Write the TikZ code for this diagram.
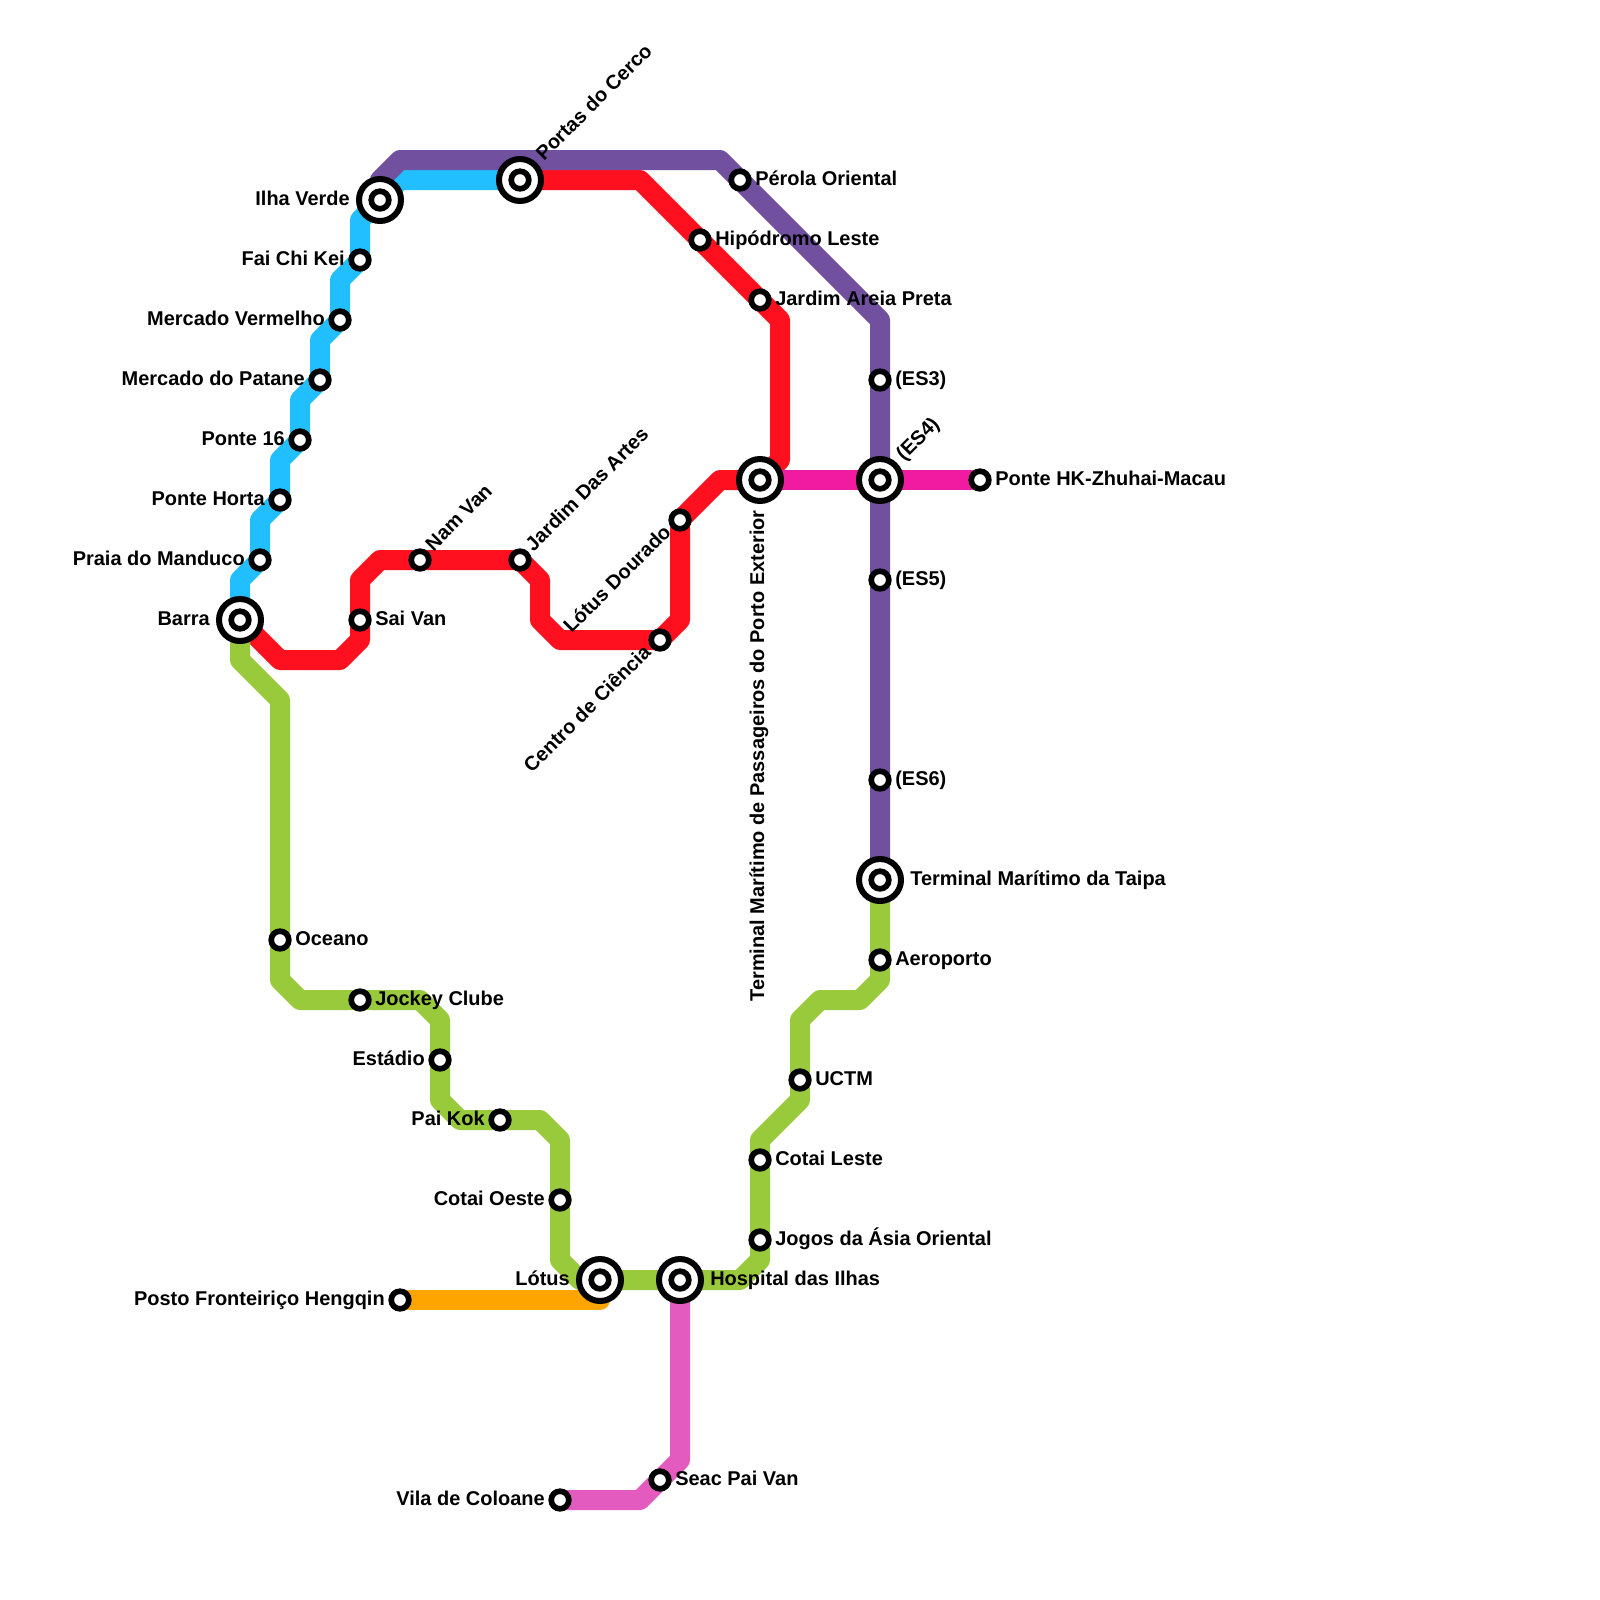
\documentclass[tikz,border=0pt]{standalone}
\usepackage{fontspec}
\setmainfont{Liberation Sans}
\usetikzlibrary{backgrounds}
\definecolor{lineblue}{HTML}{21BFFF}
\definecolor{linered}{HTML}{FF101F}
\definecolor{linepurple}{HTML}{70509F}
\definecolor{linegreen}{HTML}{98CA3C}
\definecolor{lineorange}{HTML}{FFA500}
\definecolor{linepink}{HTML}{E45BBF}
\definecolor{linemagenta}{HTML}{F01BA0}
\tikzset{
  route/.style={line width=0.5cm,line join=round},
  stopnode/.style={circle,draw=black,fill=white,line width=4.05pt,minimum size=0.44cm,inner sep=0pt,outer sep=0pt},
  hubnode/.style={circle,draw=black,fill=white,line width=4.27pt,minimum size=1.05cm,inner sep=0pt,outer sep=0pt},
  stoplabel/.style={font=\fontsize{14.2}{16}\selectfont\bfseries,inner sep=0pt,text=black}
}
\begin{document}
\begin{tikzpicture}[x=0.5cm,y=-0.5cm]
\useasboundingbox (0,0) rectangle (80,80);
\foreach \n/\x/\y/\lab in {ilhaverde/19/10/Ilha Verde,barra/12/31/Barra,lotus/30/64/Lótus}{
  \node[hubnode] (\n) at (\x,\y) {};
  \node[stopnode] (\n in) at (\x,\y) {};
  \node[stoplabel,anchor=base east] (\n lab) at (\x-1.5,\y+0.25) {\lab};}
\foreach \n/\x/\y/\lab in {taipa/44/44/Terminal Marítimo da Taipa,hospital/34/64/Hospital das Ilhas}{
  \node[hubnode] (\n) at (\x,\y) {};
  \node[stopnode] (\n in) at (\x,\y) {};
  \node[stoplabel,anchor=base west] (\n lab) at (\x+1.5,\y+0.25) {\lab};}
\foreach \n/\x/\y/\lab in {portas/26/9/Portas do Cerco,estes/44/24/(ES4)}{
  \node[hubnode] (\n) at (\x,\y) {};
  \node[stopnode] (\n in) at (\x,\y) {};
  \node[stoplabel,anchor=base west,rotate=45] (\n lab) at (\x+1.2,\y-0.92) {\lab};}
\node[hubnode] (exterior) at (38,24) {};
\node[stopnode] (exterior in) at (38,24) {};
\node[stoplabel,anchor=base east,rotate=90] (exterior lab) at (38.2,25.5) {Terminal Marítimo de Passageiros do Porto Exterior};
\foreach \n/\x/\y/\lab in {
 faichikei/18/13/Fai Chi Kei,
 vermelho/17/16/Mercado Vermelho,
 patane/16/19/Mercado do Patane,
 pontedez/15/22/Ponte 16,
 horta/14/25/Ponte Horta,
 manduco/13/28/Praia do Manduco,
 estadio/22/53/Estádio,
 paikok/25/56/Pai Kok,
 cotaioeste/28/60/Cotai Oeste,
 hengqin/20/65/Posto Fronteiriço Hengqin,
 coloane/28/75/Vila de Coloane}{
  \node[stopnode] (\n) at (\x,\y) {};
  \node[stoplabel,anchor=base east] (\n lab) at (\x-0.75,\y+0.25) {\lab};}
\foreach \n/\x/\y/\lab in {
 saivan/18/31/Sai Van,
 perola/37/9/Pérola Oriental,
 hipodromo/35/12/Hipódromo Leste,
 areiapreta/38/15/Jardim Areia Preta,
 estres/44/19/(ES3),
 escinco/44/29/(ES5),
 esseis/44/39/(ES6),
 pontehk/49/24/Ponte HK-Zhuhai-Macau,
 oceano/14/47/Oceano,
 jockey/18/50/Jockey Clube,
 aeroporto/44/48/Aeroporto,
 uctm/40/54/UCTM,
 cotaileste/38/58/Cotai Leste,
 jogos/38/62/Jogos da Ásia Oriental,
 seac/33/74/Seac Pai Van}{
  \node[stopnode] (\n) at (\x,\y) {};
  \node[stoplabel,anchor=base west] (\n lab) at (\x+0.75,\y+0.25) {\lab};}
\foreach \n/\x/\y/\lab in {namvan/21/28/Nam Van,artes/26/28/Jardim Das Artes}{
  \node[stopnode] (\n) at (\x,\y) {};
  \node[stoplabel,anchor=base west,rotate=45] (\n lab) at (\x+0.67,\y-0.39) {\lab};}
\foreach \n/\x/\y/\lab in {dourado/34/26/Lótus Dourado,ciencia/33/32/Centro de Ciência}{
  \node[stopnode] (\n) at (\x,\y) {};
  \node[stoplabel,anchor=base east,rotate=45] (\n lab) at (\x-0.39,\y+0.67) {\lab};}
\begin{pgfonlayer}{background}
\draw[route,linered] (barra.center) -- (14,33) -- (17,33) -- (18,32) -- (saivan.center) -- (18,29) -- (19,28) -- (namvan.center) -- (artes.center) -- (27,29) -- (27,31) -- (28,32) -- (ciencia.center) -- (34,31) -- (dourado.center) -- (36,24) -- (exterior.center) -- (39,23) -- (39,16) -- (areiapreta.center) -- (hipodromo.center) -- (32,9) -- (portas.center);
\draw[route,lineblue] (barra.center) -- (12,29) -- (manduco.center) -- (13,26) -- (horta.center) -- (14,23) -- (pontedez.center) -- (15,20) -- (patane.center) -- (16,17) -- (vermelho.center) -- (17,14) -- (faichikei.center) -- (18,11) -- (ilhaverde.center) -- (20,9) -- (portas.center);
\draw[route,linepurple] (ilhaverde.center) -- (19,9) -- (20,8) -- (36,8) -- (perola.center) -- (44,16) -- (estres.center) -- (estes.center) -- (escinco.center) -- (esseis.center) -- (taipa.center);
\draw[route,linegreen] (barra.center) -- (12,33) -- (14,35) -- (oceano.center) -- (14,49) -- (15,50) -- (jockey.center) -- (21,50) -- (22,51) -- (estadio.center) -- (22,55) -- (23,56) -- (paikok.center) -- (27,56) -- (28,57) -- (cotaioeste.center) -- (28,63) -- (29,64) -- (lotus.center) -- (hospital.center) -- (37,64) -- (38,63) -- (jogos.center) -- (cotaileste.center) -- (38,57) -- (40,55) -- (uctm.center) -- (40,51) -- (41,50) -- (43,50) -- (44,49) -- (aeroporto.center) -- (taipa.center);
\draw[route,lineorange] (hengqin.center) -- (30,65) -- (lotus.center);
\draw[route,linepink] (hospital.center) -- (34,73) -- (seac.center) -- (32,75) -- (coloane.center);
\draw[route,linemagenta] (exterior.center) -- (estes.center) -- (pontehk.center);
\end{pgfonlayer}
\end{tikzpicture}
\end{document}
